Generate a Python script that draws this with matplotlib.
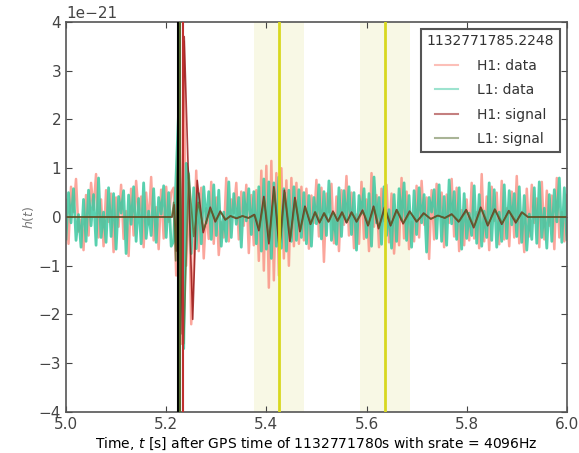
import numpy as np
import matplotlib
matplotlib.use('Agg')
import matplotlib.pyplot as plt

# strain is plotted in units of 1e-21
scale = 1e-21
gps_start = 1132771780
tevent = 1132771785.2248
fs = 4096

# whitened / bandpassed data, one sample every 5 ms from 5.0 s to 6.0 s
h1_data = np.array([
    0.35, -0.55, 0.62, 0.10, 0.78, -0.30, -0.05, -0.68, 0.45, -0.38,
    0.70, 0.15, 0.88, -0.42, 0.36, -0.60, 0.55, -0.10, 0.48, -0.72,
    0.40, -0.20, 0.66, -0.45, 0.12, -0.80, 0.58, -0.38, 0.74, 0.05,
    0.42, -0.62, 0.50, -0.15, 0.82, -0.48, 0.20, -0.66, 0.56, -0.44,
    0.62, -0.10, 0.50,
    0.60, -1.20, 1.80, -2.60, 3.60, -1.00, 0.70, -2.20, -0.90, 0.95,
    -0.70, 0.60, -0.85, 0.18, -0.45, 0.72, -0.55,
    0.40, -0.78, -0.10, -0.42, 0.80, -0.50, 0.36, 0.08, 0.70, -0.46,
    0.52, -0.18, 0.66, -0.74, 0.45, -0.58,
    0.55, -0.90, 0.95, -1.10, 1.05, -1.45, 1.15, -1.30, 0.90, -1.20,
    1.00, -0.85, 0.75, -1.00, 0.80, -0.60, 0.70, -0.55, 0.62, -0.48, 0.58,
    -0.65, 0.44, -0.12, 0.76, -0.40, 0.60, -0.92, 0.48, 0.10, 0.68,
    -0.54, 0.42, -0.70,
    0.55, -0.16, 0.84, -0.38, 0.50, -0.64, 0.05, -0.55, 0.72, -0.45,
    0.36, -0.70, 0.90, -0.20, 0.45, -0.62, 0.58, -0.08, 0.66, -0.52,
    0.48, -0.75, 0.12, -0.58, 0.80, -0.44, 0.52, -0.66, -0.10, -0.50,
    0.64, -0.42, 0.74, -0.16, 0.40, -0.86, 0.55, -0.46, 0.68, 0.06,
    0.50, -0.62, 0.46, -0.12, 0.78, -0.40, 0.60, -0.70, 0.14, -0.58,
    0.36, -0.48, 0.70, -0.44, 0.10, -0.64, 0.88, -0.50, 0.42, -0.68,
    0.62, -0.08, 0.50, -0.56, 0.74, -0.46, 0.18, -0.60, 0.52, -0.42,
    0.84, -0.54, 0.06, -0.72, 0.58, -0.40, 0.66, -0.12, 0.38, -0.62,
    0.72, -0.46, 0.54, -0.18, 0.44, -0.66, 0.80, -0.42, 0.10, -0.50, 0.45,
])

l1_data = np.array([
    -0.45, 0.50, -0.12, 0.58, -0.48, 0.05, -0.62, 0.36, -0.50, 0.55,
    -0.18, 0.46, -0.58, 0.80, -0.42, 0.10, -0.52, 0.60, -0.40, 0.48,
    -0.66, 0.42, 0.08, 0.54, -0.75, 0.45, -0.15, 0.62, -0.50, 0.38,
    -0.55, 0.70, -0.44, 0.12, -0.38, 0.58, -0.52, 0.40, 0.06, 0.64,
    -0.42, 0.50, -0.60,
    -0.50, 0.90, 2.20, -1.00, -2.70, 1.10, 0.85, -0.75, 0.60, -0.65,
    0.48, -0.55, 0.62, -0.12, 0.52, -0.46, 0.66,
    -0.38, 0.55, -0.60, 0.10, -0.50, 0.72, -0.42, 0.48, -0.15, 0.40,
    -0.62, 0.50, -0.08, 0.58, -0.36, 0.52,
    -0.55, 0.62, -0.70, 0.78, -0.66, 0.72, -0.85, 0.70, -0.60, 0.82,
    -0.64, 0.58, -0.70, 0.55, -0.50, 0.62, -0.48, 0.56, -0.42, 0.50, -0.55,
    0.44, -0.60, 0.40, -0.14, 0.66, -0.45, 0.52, -0.38, 0.74, -0.48,
    0.06, -0.56, 0.60,
    -0.40, 0.54, -0.10, 0.62, -0.36, 0.50, -0.68, 0.44, 0.08, 0.58,
    -0.42, 0.48, -0.60, 0.82, -0.12, 0.40, -0.56, 0.62, -0.38, 0.15,
    -0.64, 0.46, -0.50, 0.58, -0.06, 0.70, -0.48, 0.44, -0.62, 0.54,
    -0.36, 0.60, -0.12, 0.46, -0.72, 0.40, 0.10, 0.56, -0.44, 0.66,
    -0.50, 0.42, -0.58, 0.76, -0.14, 0.52, -0.46, 0.60, -0.66, 0.48,
    -0.44, 0.08, -0.38, 0.64, -0.54, 0.46, -0.60, 0.12, -0.42, 0.70,
    -0.48, 0.56, -0.62, 0.10, -0.50, 0.66, -0.44, 0.54, -0.16, 0.48,
    -0.40, 0.62, -0.52, 0.44, -0.68, 0.06, -0.46, 0.60, -0.54, 0.72,
    -0.42, 0.18, -0.64, 0.46, -0.50, 0.56, -0.10, 0.80, -0.52, 0.60, -0.46,
])

# template waveforms (turning points)
h1_sig_t = [5.000, 5.212, 5.216, 5.220, 5.224, 5.229, 5.236, 5.253, 5.262,
            5.274, 5.288, 5.298, 5.308, 5.318, 5.328, 5.340, 5.352, 5.364,
            5.376, 5.385, 5.395, 5.405, 5.415, 5.426, 5.436, 5.447, 5.457,
            5.467, 5.477, 5.488, 5.497, 5.506, 5.515, 5.524, 5.533, 5.542,
            5.551, 5.560, 5.570, 5.580, 5.592, 5.603, 5.614, 5.624, 5.636,
            5.648, 5.660, 5.673, 5.686, 5.700, 5.714, 5.728, 5.742, 5.756,
            5.770, 5.784, 5.799, 5.814, 5.828, 5.842, 5.856, 5.870, 5.884,
            5.898, 5.910, 5.922, 6.000]
h1_sig = [0.0, 0.0, 0.25, -0.7, 1.4, -2.4, 3.7, -2.1, 0.75,
          -0.32, 0.2, -0.1, 0.12, -0.06, 0.02, -0.03, 0.02, -0.02,
          0.05, -0.28, 0.42, -0.55, 0.62, -0.68, 0.55, -0.5, 0.4,
          -0.3, 0.22, -0.15, 0.1, -0.12, 0.08, -0.1, 0.12, -0.08,
          0.1, -0.12, 0.1, -0.1, 0.14, -0.18, 0.22, -0.24, 0.2,
          -0.18, 0.15, -0.14, 0.12, -0.1, 0.08, -0.04, 0.03, -0.02,
          0.06, -0.1, 0.15, -0.22, 0.2, -0.18, 0.16, -0.15, 0.13,
          -0.12, 0.1, 0.0, 0.0]

l1_sig_t = [5.000, 5.211, 5.215, 5.219, 5.2247, 5.235, 5.245, 5.255, 5.264,
            5.275, 5.289, 5.299, 5.309, 5.319, 5.329, 5.341, 5.353, 5.365,
            5.377, 5.386, 5.396, 5.406, 5.416, 5.427, 5.437, 5.448, 5.458,
            5.468, 5.478, 5.489, 5.498, 5.507, 5.516, 5.525, 5.534, 5.543,
            5.552, 5.561, 5.571, 5.581, 5.593, 5.604, 5.615, 5.625, 5.637,
            5.649, 5.661, 5.674, 5.687, 5.701, 5.715, 5.729, 5.743, 5.757,
            5.771, 5.785, 5.800, 5.815, 5.829, 5.843, 5.857, 5.871, 5.885,
            5.899, 5.911, 5.923, 6.000]
l1_sig = [0.0, 0.0, 0.3, -0.9, 2.4, -2.6, 0.9, -0.4, 0.3,
          -0.25, 0.16, -0.08, 0.1, -0.05, 0.02, -0.02, 0.02, -0.02,
          0.04, -0.25, 0.38, -0.5, 0.58, -0.62, 0.5, -0.45, 0.36,
          -0.28, 0.2, -0.14, 0.1, -0.1, 0.08, -0.09, 0.1, -0.08,
          0.09, -0.1, 0.09, -0.09, 0.12, -0.16, 0.2, -0.22, 0.18,
          -0.16, 0.14, -0.12, 0.1, -0.09, 0.07, -0.04, 0.03, -0.02,
          0.05, -0.09, 0.13, -0.2, 0.18, -0.16, 0.15, -0.13, 0.12,
          -0.1, 0.09, 0.0, 0.0]

# peak times and the two highlighted windows
peak_lines = [(5.2235, 'k'), (5.2275, 'darkolivegreen'), (5.2330, '#c03030')]
windows = [(5.375, 5.475, 5.425), (5.587, 5.687, 5.637)]

t_data = np.linspace(5.0, 6.0, len(h1_data))

plt.rcParams['font.family'] = 'DejaVu Sans'
plt.rcParams['text.color'] = '#333333'
plt.rcParams['xtick.color'] = '#444444'
plt.rcParams['ytick.color'] = '#444444'

fig = plt.figure(figsize=(5.79, 4.53), dpi=100)
ax = fig.add_axes([0.114, 0.0905, 0.865, 0.861])

for lo, hi, mid in windows:
    ax.axvspan(lo, hi, color='y', alpha=0.1, lw=0, zorder=0)

ax.plot(t_data, h1_data * scale, color='salmon', alpha=0.7, lw=1.8, label='H1: data')
ax.plot(t_data, l1_data * scale, color='#3cc8a0', alpha=0.85, lw=2.0, label='L1: data')
ax.plot(h1_sig_t, np.array(h1_sig) * scale, color='darkred', alpha=0.75, lw=1.2, label='H1: signal')
ax.plot(l1_sig_t, np.array(l1_sig) * scale, color='darkolivegreen', alpha=0.75, lw=1.2, label='L1: signal')

for t0, c in peak_lines:
    ax.axvline(t0, color=c, lw=1.5, zorder=5)
for lo, hi, mid in windows:
    ax.axvline(mid, color='#d8d820', lw=2, zorder=5)

ax.set_xlim(5.0, 6.0)
ax.set_ylim(-4 * scale, 4 * scale)
ax.set_xticks(np.arange(5.0, 6.01, 0.2))
ax.set_yticks(np.arange(-4, 5) * scale)
ax.tick_params(direction='in', top=True, right=True, length=4, labelsize=11)
for sp in ax.spines.values():
    sp.set_color('#555555')
    sp.set_linewidth(1.2)

ax.set_xlabel('Time, $t$ [s] after GPS time of %ds with srate = %dHz' % (gps_start, fs),
              fontsize=10, labelpad=3)
ax.set_ylabel('$h(t)$', fontsize=9, color='#777777', labelpad=2)
ax.yaxis.get_offset_text().set_fontsize(11)

leg = ax.legend(loc='upper right', title='%.4f' % tevent, fontsize=10,
                title_fontsize=10, fancybox=False, edgecolor='#555555',
                framealpha=1, borderaxespad=0.5, labelspacing=0.75,
                handlelength=1.65, handletextpad=1.35)
leg.get_frame().set_linewidth(1.5)
# lighter swatches in the key
for h in leg.legend_handles:
    h.set_alpha(0.5)
    h.set_linewidth(1.5)

fig.savefig('out.png', dpi=100)
